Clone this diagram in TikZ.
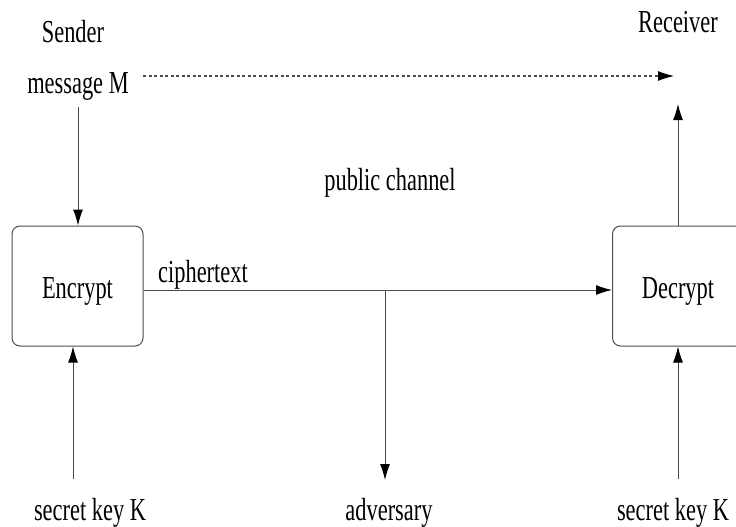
\documentclass[tikz,border=0pt]{standalone}
\usepackage{fontspec}
\setmainfont{Liberation Serif}
\usetikzlibrary{arrows.meta}
\newcommand{\nar}[1]{\scalebox{0.70}[1]{#1}}
\tikzset{
  lbl/.style={font=\fontsize{32}{34}\selectfont, inner sep=0pt, anchor=base},
  blk/.style={draw=black!70, line width=1pt, rounded corners=8pt, minimum width=131pt, minimum height=120pt, inner sep=0pt},
  conn/.style={draw=black!70, line width=1pt, -{Latex[length=16pt,width=10pt,fill=black,color=black]}},
}
\begin{document}
\begin{tikzpicture}[x=1pt,y=-1pt]
\useasboundingbox (0,0) rectangle (736,527);
\clip (0,0) rectangle (736,527);
% labels
\node[lbl] (sender) at (73,43) {\nar{Sender}};
\node[lbl] (msg) at (78,93) {\nar{message M}};
\node[lbl] (recv) at (678,33) {\nar{Receiver}};
\node[lbl] (pub) at (390,190) {\nar{public channel}};
\node[lbl] (ctext) at (203,282) {\nar{ciphertext}};
\node[lbl] (skl) at (90,520) {\nar{secret key K}};
\node[lbl] (adv) at (389,520) {\nar{adversary}};
\node[lbl] (skr) at (673,520) {\nar{secret key K}};
% boxes
\node[blk] (enc) at (77.5,286) {};
\node[lbl] (enct) at (77.5,298) {\nar{Encrypt}};
\node[blk] (dec) at (678,286) {};
\node[lbl] (dect) at (678,298) {\nar{Decrypt}};
% free ends
\coordinate (mstart) at (78,107);
\coordinate (dashs) at (143,76);
\coordinate (dashe) at (674,76);
\coordinate (rtip) at (678,104);
\coordinate (kl) at (73,479);
\coordinate (kr) at (678,479);
\coordinate (split) at (385,290);
\coordinate (advtip) at (385,480);
% connectors
\draw[conn] (mstart) -- (enc.north -| mstart);
\draw[conn, dash pattern=on 3pt off 2.5pt] (dashs) -- (dashe);
\draw[conn] (dec.north -| rtip) -- (rtip);
\draw[conn] (enc.east |- split) -- (dec.west |- split);
\draw[conn] (split) -- (advtip);
\draw[conn] (kl) -- (enc.south -| kl);
\draw[conn] (kr) -- (dec.south -| kr);
\end{tikzpicture}
\end{document}
